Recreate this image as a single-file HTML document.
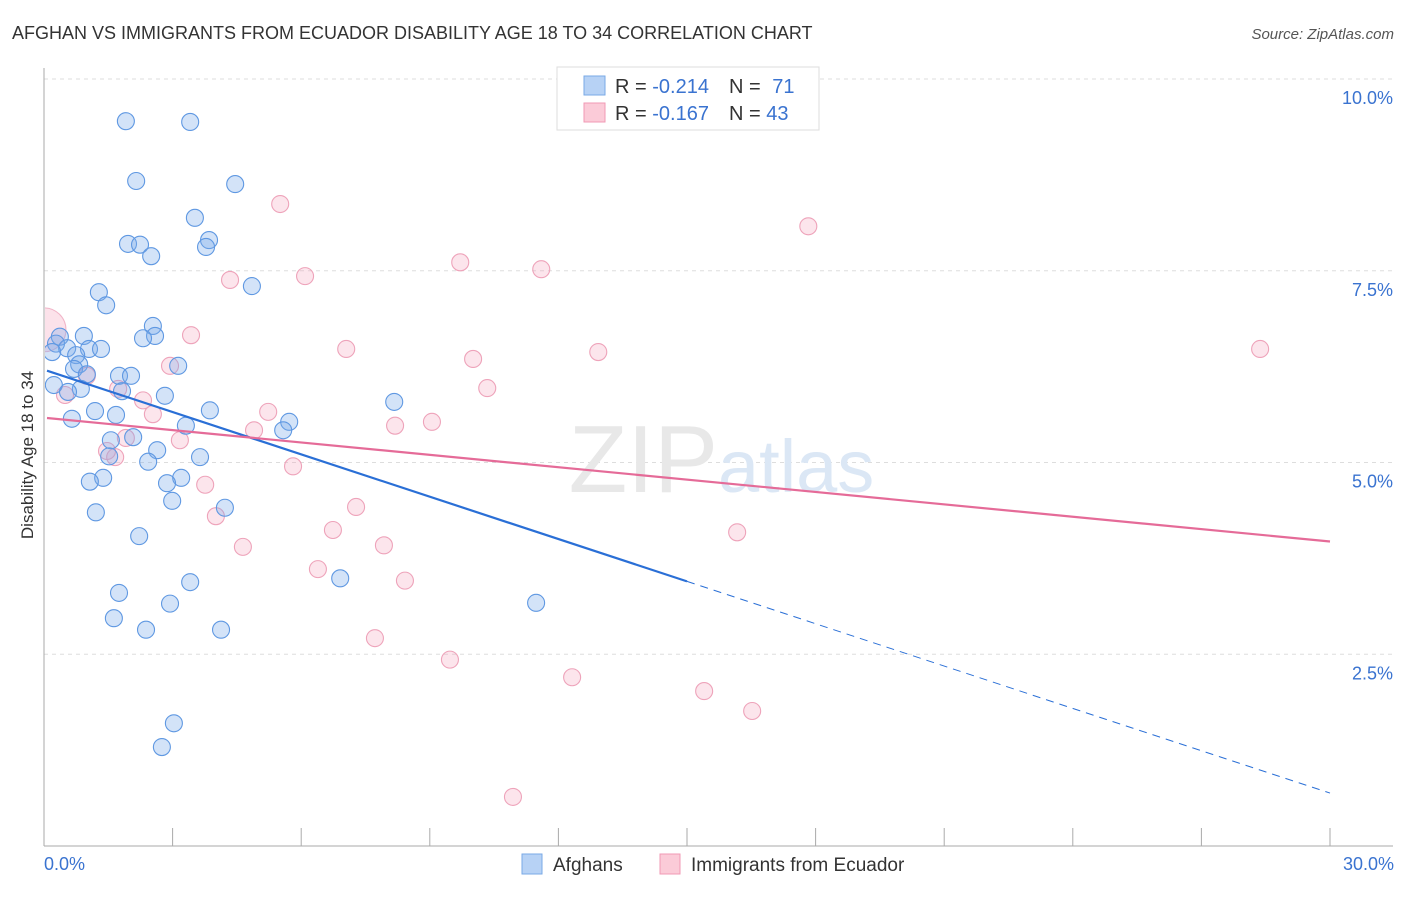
<!DOCTYPE html>
<html><head><meta charset="utf-8"><style>
body{margin:0;background:#fff;font-family:"Liberation Sans",sans-serif;}
svg text{font-family:"Liberation Sans",sans-serif;}
</style></head><body>
<svg id="c" width="1406" height="892">
<defs><clipPath id="pa"><rect x="45" y="60" width="1360" height="786"/></clipPath></defs>
<text x="12" y="39" font-size="18" fill="#333">AFGHAN VS IMMIGRANTS FROM ECUADOR DISABILITY AGE 18 TO 34 CORRELATION CHART</text>
<text x="1394" y="39" font-size="15" fill="#555" font-style="italic" text-anchor="end">Source: ZipAtlas.com</text>
<g id="grid"></g>
<text x="718" y="492" font-size="96" fill="#e8e8e8" text-anchor="end" font-family="Liberation Serif">ZIP</text>
<text x="718" y="492" font-size="74" fill="#dbe7f5">atlas</text>
<g id="axes"></g>
<g id="marks" clip-path="url(#pa)"></g>
<g id="trends"></g>
<text transform="translate(33,455) rotate(-90)" font-size="17" fill="#333" text-anchor="middle">Disability Age 18 to 34</text>
<g>
<rect x="557" y="67" width="262" height="63" fill="#fff" stroke="#ddd"/>
<rect x="584" y="76" width="21" height="19" fill="#b7d2f5" stroke="#7aa9e6"/>
<rect x="584" y="103" width="21" height="19" fill="#fbcbd8" stroke="#f09ab4"/>
<text x="615" y="93" font-size="20" fill="#333">R = <tspan fill="#3a73d0">-0.214</tspan><tspan dx="20">N = </tspan><tspan fill="#3a73d0" dx="6">71</tspan></text>
<text x="615" y="120" font-size="20" fill="#333">R = <tspan fill="#3a73d0">-0.167</tspan><tspan dx="20">N = </tspan><tspan fill="#3a73d0">43</tspan></text>
</g>
<g>
<rect x="522" y="854" width="20" height="20" fill="#b7d2f5" stroke="#7aa9e6"/>
<text x="553" y="871" font-size="19" fill="#333">Afghans</text>
<rect x="660" y="854" width="20" height="20" fill="#fbcbd8" stroke="#f09ab4"/>
<text x="691" y="871" font-size="19" fill="#333">Immigrants from Ecuador</text>
</g>
</svg>
<script>
const yTicks=[2.5,5,7.5,10];
const yTickLabels=["2.5%","5.0%","7.5%","10.0%"];
const xTicks=[0,3,6,9,12,15,18,21,24,27,30];
const afghanX=[1.91,3.41,2.15,4.46,3.52,1.96,2.24,3.85,3.78,2.50,4.85,1.28,1.45,2.54,2.59,2.31,0.93,0.37,0.28,0.54,1.05,1.33,0.19,0.75,0.82,3.13,0.70,1.00,1.75,2.03,0.23,0.86,1.82,2.82,0.56,8.17,1.19,1.68,3.87,0.65,5.72,5.58,3.31,2.08,1.56,2.64,1.52,3.64,2.43,3.20,1.38,2.87,1.07,2.99,4.22,1.21,2.22,6.91,3.41,1.75,11.48,2.94,1.63,2.38,4.13,3.03,2.75];
const afghanY=[9.45,9.44,8.67,8.63,8.19,7.85,7.84,7.90,7.81,7.69,7.30,7.22,7.05,6.78,6.65,6.62,6.65,6.64,6.55,6.49,6.48,6.48,6.44,6.40,6.28,6.26,6.22,6.15,6.13,6.13,6.01,5.96,5.93,5.87,5.92,5.79,5.67,5.62,5.68,5.57,5.53,5.42,5.48,5.33,5.29,5.16,5.08,5.07,5.01,4.80,4.80,4.73,4.75,4.50,4.41,4.35,4.04,3.49,3.44,3.30,3.17,3.16,2.97,2.82,2.82,1.60,1.29];
const ecuX=[5.51,17.83,4.34,6.09,9.71,11.60,3.43,7.05,12.93,28.37,10.01,2.94,1.00,1.73,10.34,0.49,2.31,2.54,5.23,9.05,8.19,4.90,1.91,3.17,1.47,1.66,5.81,3.76,7.28,4.01,6.74,16.17,4.64,7.93,6.39,8.42,7.72,9.47,12.32,15.40,16.52,10.94];
const ecuY=[8.37,8.08,7.38,7.43,7.61,7.52,6.66,6.48,6.44,6.48,6.35,6.26,6.13,5.96,5.97,5.88,5.81,5.63,5.66,5.53,5.48,5.42,5.32,5.29,5.15,5.07,4.95,4.71,4.42,4.30,4.12,4.09,3.90,3.92,3.61,3.46,2.71,2.43,2.20,2.02,1.76,0.64];
const afghanTrend=[6.21,0.69]; // y at x=0 and x=30
const ecuTrend=[5.58,3.97];
const sx=v=>44+v/30*1286, sy=v=>846-v/10*767;
const NS="http://www.w3.org/2000/svg";
function mk(tag,attrs,parent){const e=document.createElementNS(NS,tag);for(const k in attrs)e.setAttribute(k,attrs[k]);document.getElementById(parent).appendChild(e);return e;}
yTicks.forEach((t,i)=>{
 const l=mk('line',{x1:44,x2:1393,y1:sy(t),y2:sy(t),stroke:'#ddd','stroke-dasharray':'4,4'},'grid');
 
 
 const tx=mk('text',{x:1393,y:sy(t)+25,'font-size':18,fill:'#3a73d0','text-anchor':'end'},'axes');
 tx.textContent=yTickLabels[i];
 
 
});
let a=mk('line',{x1:44,x2:44,y1:68,y2:846,stroke:'#aaa'},'axes');


a=mk('line',{x1:44,x2:1393,y1:846,y2:846,stroke:'#aaa'},'axes');


xTicks.forEach(t=>{
 const l=mk('line',{x1:sx(t),x2:sx(t),y1:828,y2:846,stroke:'#aaa'},'axes');
 
 
});
let t0=mk('text',{x:44,y:870,'font-size':18,fill:'#3a73d0'},'axes');t0.textContent='0.0%';


t0=mk('text',{x:1394,y:870,'font-size':18,fill:'#3a73d0','text-anchor':'end'},'axes');t0.textContent='30.0%';


let big=mk('circle',{cx:sx(0),cy:sy(6.73),r:22,fill:'rgba(244,160,186,0.3)',stroke:'rgba(232,140,170,0.6)'},'marks');


ecuX.forEach((x,i)=>{
 const c=mk('circle',{cx:sx(x),cy:sy(ecuY[i]),r:8.5,fill:'rgba(244,160,186,0.28)',stroke:'#eea3ba','stroke-width':1.1},'marks');
 
 
});
afghanX.forEach((x,i)=>{
 const c=mk('circle',{cx:sx(x),cy:sy(afghanY[i]),r:8.5,fill:'rgba(120,170,235,0.33)',stroke:'#5f98e2','stroke-width':1.1},'marks');
 
 
});
const by=x=>afghanTrend[0]+(afghanTrend[1]-afghanTrend[0])*x/30;
let l=mk('line',{x1:sx(0.07),y1:sy(by(0.07)),x2:sx(15),y2:sy(by(15)),stroke:'#2a6fd6','stroke-width':2.2},'trends');


l=mk('line',{x1:sx(15),y1:sy(by(15)),x2:sx(30),y2:sy(by(30)),stroke:'#2a6fd6','stroke-width':1,'stroke-dasharray':'8,6'},'trends');


l=mk('line',{x1:sx(0.07),y1:sy(ecuTrend[0]),x2:sx(30),y2:sy(ecuTrend[1]),stroke:'#e56b98','stroke-width':2.2},'trends');


</script>
</body></html>
